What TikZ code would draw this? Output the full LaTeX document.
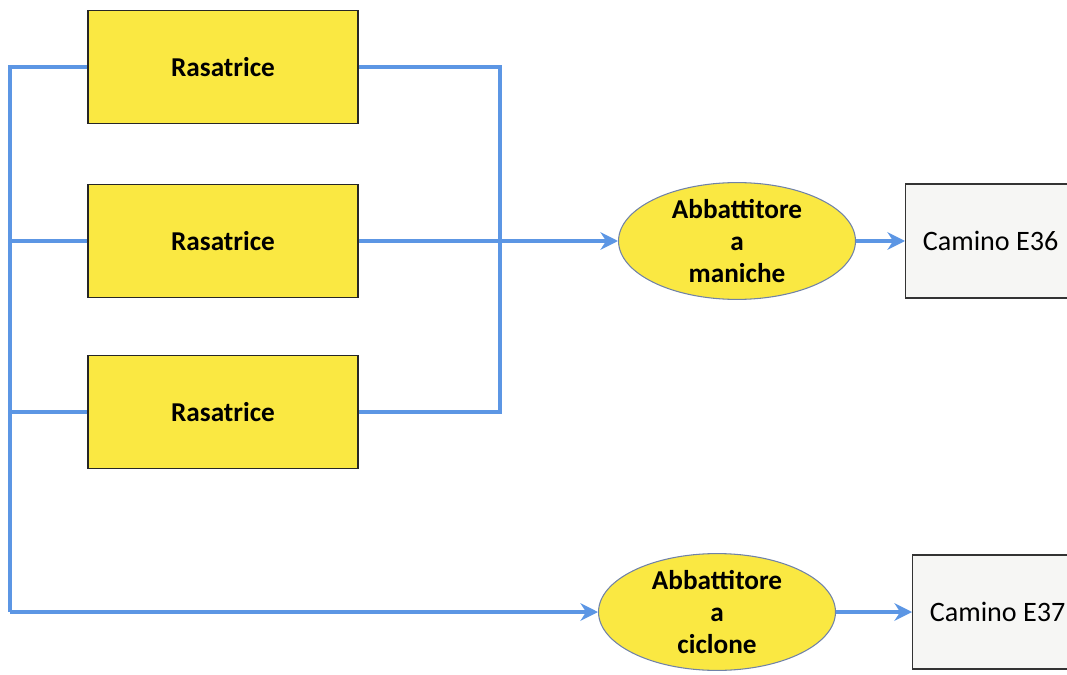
\documentclass[tikz,border=0pt]{standalone}
\usepackage{fontspec}
\setmainfont{Carlito}
\usetikzlibrary{arrows.meta,shapes.geometric}
\definecolor{rsyellow}{RGB}{250,232,66}
\definecolor{rsblue}{RGB}{92,150,228}
\definecolor{rsedge}{RGB}{112,130,168}
\definecolor{rsgray}{RGB}{246,246,244}

\begin{document}
\begin{tikzpicture}[x=.02cm,y=-.02cm,
    font=\fontsize{15.5}{18}\selectfont,
    machine/.style={draw=black!85,line width=.8pt,fill=rsyellow,
      minimum width=5.4cm,minimum height=2.27cm,font=\bfseries\fontsize{15.5}{18}\selectfont},
    filter/.style={ellipse,draw=rsedge,line width=.6pt,fill=rsyellow,
      minimum width=4.74cm,minimum height=2.28cm,inner sep=0pt,align=center,
      font=\bfseries\fontsize{15.5}{18}\selectfont},
    stack/.style={draw=black!80,line width=.7pt,fill=rsgray,
      minimum width=3.4cm,minimum height=2.28cm,anchor=west,
      font=\fontsize{16}{18}\selectfont},
    pipe/.style={draw=rsblue,line width=2pt},
    flow/.style={pipe,-{Stealth[length=10pt,width=10pt]}}]
  \useasboundingbox (0,0) rectangle (1067,675);
  % macchine
  \node[machine] (ras1) at (223,67) {Rasatrice};
  \node[machine] (ras2) at (223,241) {Rasatrice};
  \node[machine] (ras3) at (223,412) {Rasatrice};
  % abbattitori e camini
  \node[filter] (manic) at (737,241) {Abbattitore\\a\\maniche};
  \node[filter] (ciclo) at (717,612) {Abbattitore\\a\\ciclone};
  \node[stack] (e36) at (905,241) {Camino E36};
  \node[stack] (e37) at (912,612) {Camino E37};
  % collettori
  \coordinate (ltop) at (10,67);
  \coordinate (lbot) at (10,612);
  \coordinate (rtop) at (500,67);
  \draw[pipe] (ras1.west) -- (ltop) -- (lbot);
  \draw[pipe] (ras2.west) -- (ras2.west -| ltop);
  \draw[pipe] (ras3.west) -- (ras3.west -| ltop);
  \draw[pipe] (ras1.east) -- (rtop) -- (ras3.east -| rtop) -- (ras3.east);
  \draw[flow] (lbot) -- (ciclo.west);
  \draw[flow] (ras2.east) -- (manic.west);
  \draw[flow] (manic.east) -- (e36.west);
  \draw[flow] (ciclo.east) -- (e37.west);
\end{tikzpicture}
\end{document}
